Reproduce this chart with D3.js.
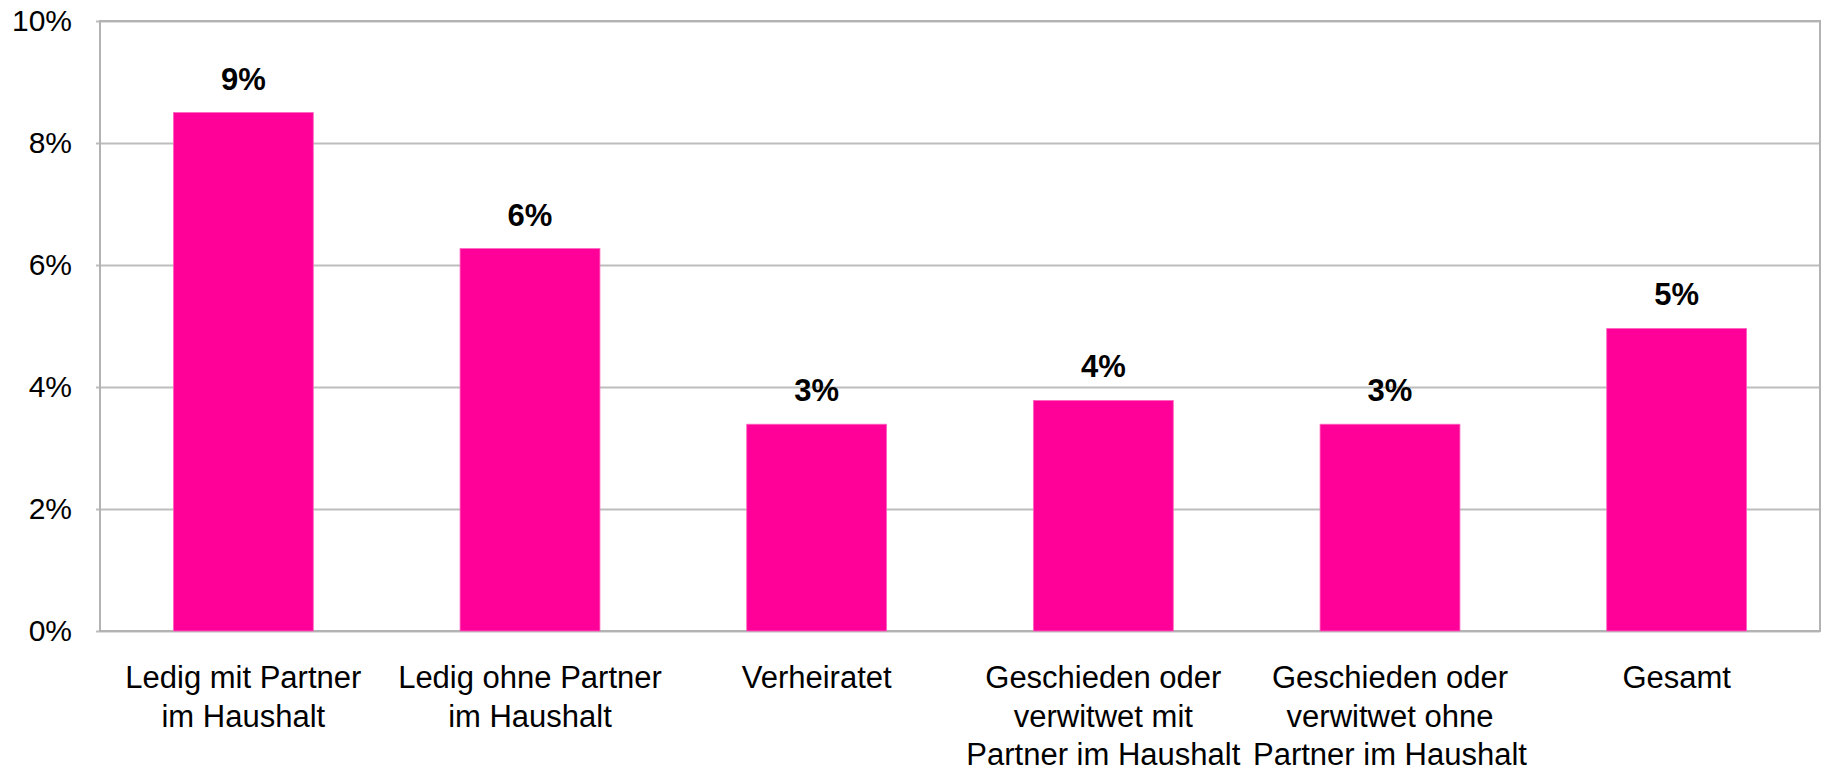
<!DOCTYPE html>
<html>
<head>
<meta charset="utf-8">
<script src="https://d3js.org/d3.v7.min.js"></script>
<style>
  body { margin: 0; background: #ffffff; font-family: Arial, "Liberation Sans", sans-serif; }
</style>
</head>
<body>
<div id="chart"></div>
<script>
    // data
    var categories = [
        "Ledig mit Partner\nim Haushalt",
        "Ledig ohne Partner\nim Haushalt",
        "Verheiratet",
        "Geschieden oder\nverwitwet mit\nPartner im Haushalt",
        "Geschieden oder\nverwitwet ohne\nPartner im Haushalt",
        "Gesamt"
    ];
    var values = [0.085, 0.0627, 0.0339, 0.0378, 0.0339, 0.0496];
    var yTicks = [0, 0.02, 0.04, 0.06, 0.08, 0.10];

    var W = 1824, H = 772,
        margin = { top: 21, right: 4, bottom: 141, left: 100 },
        width = W - margin.left - margin.right,
        height = H - margin.top - margin.bottom;

    var svg = d3.select('#chart').append('svg')
        .attr('width', W)
        .attr('height', H);

    var g = svg.append('g')
        .attr('transform', 'translate(' + margin.left + ',' + margin.top + ')');

    var x = d3.scaleBand()
        .domain(categories)
        .range([0, width])
        .paddingInner(0.512)
        .paddingOuter(0.256);

    var y = d3.scaleLinear()
        .domain([0, 0.10])
        .range([height, 0]);

    var pct = d3.format('.0%');

    // gridlines + tick labels
    var yAxis = g.append('g')
        .call(d3.axisLeft(y).tickValues(yTicks).tickFormat(pct)
            .tickSizeInner(-width).tickSizeOuter(0).tickPadding(28));
    yAxis.select('.domain').remove();
    yAxis.selectAll('.tick line')
        .attr('x1', -4)
        .attr('stroke', '#bdbdbd')
        .attr('stroke-width', 2);
    yAxis.selectAll('.tick text')
        .attr('fill', '#000')
        .style('font-family', 'Arial, "Liberation Sans", sans-serif')
        .style('font-size', '30px');

    // plot frame
    g.append('rect')
        .attr('x', 0).attr('y', 0)
        .attr('width', width).attr('height', height)
        .attr('fill', 'none')
        .attr('stroke', '#b3b3b3')
        .attr('stroke-width', 2);

    // bars
    g.selectAll('.bar')
        .data(values)
        .enter().append('rect')
        .attr('class', 'bar')
        .attr('x', function(d, i) { return x(categories[i]); })
        .attr('y', function(d) { return y(d); })
        .attr('width', x.bandwidth())
        .attr('height', function(d) { return height - y(d); })
        .attr('fill', '#ff0099')
        .attr('stroke', '#ff66c0')
        .attr('stroke-width', 0.8);

    // value labels
    g.selectAll('.val')
        .data(values)
        .enter().append('text')
        .attr('class', 'val')
        .attr('x', function(d, i) { return x(categories[i]) + x.bandwidth() / 2; })
        .attr('y', function(d) { return y(d) - 23; })
        .attr('text-anchor', 'middle')
        .style('font-size', '31px')
        .style('font-weight', 'bold')
        .text(function(d) { return pct(d); });

    // category labels
    var xAxis = g.append('g')
        .attr('transform', 'translate(0,' + height + ')');
    xAxis.selectAll('text')
        .data(categories)
        .enter().append('text')
        .attr('x', function(d) { return x(d) + x.bandwidth() / 2; })
        .attr('y', 57)
        .attr('text-anchor', 'middle')
        .style('font-size', '31px')
        .each(function(d) {
            var t = d3.select(this);
            d.split('\n').forEach(function(line, k) {
                t.append('tspan')
                    .attr('x', t.attr('x'))
                    .attr('dy', k === 0 ? 0 : 38.5)
                    .text(line);
            });
        });
</script>
</body>
</html>
